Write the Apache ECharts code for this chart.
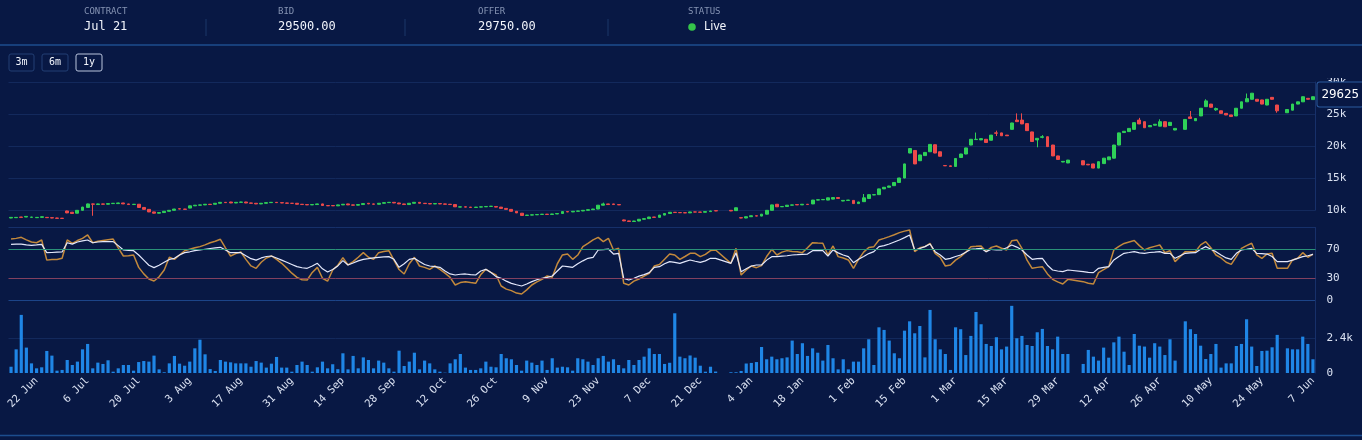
<!DOCTYPE html>
<html><head><meta charset="utf-8">
<script src="https://cdn.jsdelivr.net/npm/echarts@6/dist/echarts.min.js"></script>
<style>html,body{margin:0;padding:0;background:#081844;overflow:hidden}#c{width:1362px;height:440px}</style>
</head><body><div id="c"></div><script>
// ---------- data ----------
const months = ['Jan','Feb','Mar','Apr','May','Jun','Jul','Aug','Sep','Oct','Nov','Dec'];
const dates = [];
for (let d = new Date(Date.UTC(2020,5,15)); dates.length < 256; d.setUTCDate(d.getUTCDate()+1)) {
  const w = d.getUTCDay(); if (w === 0 || w === 6) continue;
  dates.push(d.toISOString().slice(0,10));
}
const priceTicks = [10000,15000,20000,25000,30000];
const rsiTicks = [0,30,70];
const rsiBands = [30,70];
const volTicks = [0,2400];
const lastPrice = 29625;

const open = [
8750,8800,8900,8900,8850,8800,8850,8850,8800,8750,
8720,9850,9650,9500,9950,10400,10950,10850,10950,10900,
11000,11000,11100,10950,10850,10900,10400,10100,9700,9500,
9600,9800,9950,10200,10150,10300,10650,10750,10800,10900,
10900,11050,11200,11250,11100,11200,11250,11100,11050,10950,
11050,11150,11200,11150,11100,11050,11050,10900,10850,10800,
10850,10950,10700,10700,10650,10800,10950,10800,10750,10850,
11050,10950,10900,11050,11150,11200,11100,10950,10850,11050,
11200,11050,11000,10950,11000,10950,10900,10850,10450,10500,
10450,10400,10450,10500,10550,10550,10450,10250,10100,9800,
9500,9150,9200,9250,9300,9350,9300,9380,9450,9750,
9700,9800,9850,9950,10050,10150,10750,10950,10950,10850,
8450,8300,8200,8280,8550,8650,8900,8850,9200,9450,
9650,9600,9580,9550,9700,9680,9650,9750,9900,null,
null,9950,9900,8800,8750,8950,9100,9050,9350,9950,
10900,10500,10550,10750,10850,10800,10900,10950,11550,11600,
11550,11700,11950,11400,11500,11500,11000,11300,11800,12350,
12400,13300,13550,13800,14300,15000,18900,19300,17700,18500,
19100,20200,19100,16950,16900,16800,18200,18750,20150,21000,
20950,21050,20900,22050,22050,21700,22600,24050,24050,23500,
22200,20950,21350,21450,20150,18450,17500,17350,null,null,
17700,17150,17200,16550,17250,17850,18100,20150,22100,22250,
22600,24050,23800,23000,23250,23100,23800,23200,22500,null,
22600,24550,23950,24700,26150,26550,25650,25500,25100,24850,
24700,25900,26900,27300,27300,27200,26400,27600,26400,null,
25200,25600,26550,26900,27450,27250];
const close = [
8850,8850,8850,9000,8900,8850,8950,8800,8750,8700,
8680,9550,9450,9950,10450,10950,10900,10950,10900,11000,
11050,11100,10950,10850,10900,10400,10100,9700,9500,9600,
9800,9950,10150,10150,10100,10650,10750,10800,10900,10850,
11050,11200,11150,11100,11200,11250,11100,11050,10950,11050,
11150,11200,11150,11100,11050,11040,10900,10850,10800,10850,
10950,10700,10650,10650,10800,10900,10800,10750,10850,11000,
10950,10900,11050,11150,11200,11100,10950,10850,11050,11200,
11050,11000,10950,11000,10950,10900,10850,10500,10500,10450,
10400,10450,10500,10550,10600,10450,10250,10100,9800,9550,
9150,9200,9250,9300,9350,9300,9380,9450,9750,9700,
9800,9850,9950,10050,10150,10750,10950,10850,10850,10800,
8300,8200,8280,8550,8650,8900,8850,9200,9450,9650,
9600,9580,9550,9700,9680,9650,9750,9850,9850,null,
null,9850,10350,8750,8950,9100,9050,9350,9950,10800,
10500,10550,10750,10800,10800,10900,10850,11550,11600,11650,
11900,11950,11800,11500,11550,11000,11250,11900,12400,12400,
13300,13550,13750,14300,15000,17200,19600,17200,18600,19000,
20250,18900,18400,16900,16800,18050,18750,19700,21050,21050,
21150,20550,21700,22000,21600,21600,23600,23800,23450,22400,
20700,21200,21450,19900,18450,17900,17600,17800,null,null,
17050,17050,16550,17550,18100,18300,20150,22050,22300,22750,
23650,23450,22850,23200,23400,23800,23000,23700,22750,null,
24150,24300,24300,25900,27050,26050,25850,25100,24850,24600,
25900,26900,27400,28250,27000,26550,27300,27300,25500,null,
25700,26550,26900,27700,27300,27700];
const low = [
8720,8770,8820,8880,8820,8770,8820,8770,8720,8670,
8650,9500,9400,9480,9920,10380,9100,10820,10860,10870,
10960,10970,10920,10820,10820,10370,10070,9670,9450,9470,
9570,9770,9920,10120,10070,10280,10620,10720,10770,10820,
10870,11020,11120,11070,11070,11170,11070,11020,10920,10920,
11020,11120,11120,11070,11020,11020,10870,10820,10770,10770,
10820,10670,10620,10620,10620,10770,10770,10720,10720,10820,
10920,10870,10870,11020,11120,11070,10920,10820,10820,11020,
11020,10970,10920,10920,10920,10870,10820,10470,10420,10420,
10370,10370,10420,10470,10520,10420,10220,10070,9770,9520,
9120,9120,9170,9220,9270,9270,9270,9350,9420,9670,
9670,9770,9820,9920,10020,10120,10720,10820,10820,10770,
8250,8170,8170,8250,8520,8620,8820,8820,9170,9420,
9570,9550,9520,9520,9650,9620,9620,9720,9820,null,
null,9820,9870,8720,8720,8920,9020,9020,9320,9920,
10470,10470,10520,10720,10770,10770,10820,10920,11520,11570,
11520,11670,11770,11370,11470,10970,10970,11270,11770,12320,
12370,13270,13520,13770,14270,14970,18870,17170,17670,18470,
19070,18870,18370,16870,16770,16770,18170,18720,20120,20970,
20920,20520,20870,21560,21570,21570,22570,23770,23420,22370,
20670,19800,21200,19870,18420,17870,17470,17320,null,null,
17020,17020,16520,16520,17220,17820,18070,20120,22070,22220,
22570,23420,22820,22970,23220,23070,22970,23170,22470,null,
22570,24270,23920,24670,26120,26020,25500,25070,24820,24570,
24670,25870,26870,27270,26970,26520,26370,27270,25200,null,
25170,25570,26520,26870,27270,27220];
const high = [
8880,8880,8930,9030,8930,8880,8980,8880,8830,8780,
8750,9900,9700,9980,10500,11000,11000,11000,10980,11040,
11090,11140,11130,10980,10940,10930,10430,10130,9730,9630,
9830,9980,10180,10230,10180,10680,10780,10830,10930,10930,
11080,11230,11230,11280,11230,11280,11280,11130,11080,11080,
11180,11230,11230,11180,11130,11070,11080,10930,10880,10880,
10980,10980,10730,10730,10830,10930,10980,10830,10880,11030,
11080,10980,11080,11180,11230,11230,11130,10980,11080,11230,
11230,11080,11030,11030,11030,10980,10930,10880,10530,10530,
10480,10480,10530,10580,10630,10580,10480,10280,10130,9830,
9530,9230,9280,9330,9380,9380,9410,9480,9780,9780,
9830,9880,9980,10080,10180,10780,11150,10980,10980,10880,
8500,8330,8310,8580,8680,8930,8930,9230,9480,9680,
9680,9630,9610,9730,9730,9710,9780,9880,9930,null,
null,9980,10380,8830,8980,9130,9130,9380,9980,10830,
10930,10580,10780,10830,10880,10930,10930,11580,11630,11680,
11930,11980,11980,11530,11580,11530,11280,12500,12430,12430,
13330,13580,13780,14330,15030,17230,19630,19330,18630,19030,
20280,20230,19130,16980,16930,18080,18780,19730,21080,22100,
21180,21080,21730,22400,22080,21730,23630,25100,25100,23530,
22230,21230,21700,21480,20180,18480,17630,17830,null,null,
17730,17180,17230,17580,18130,18330,20180,22080,22330,22780,
23680,24400,23830,23230,23430,24170,23830,23730,22780,null,
24180,25470,24330,25930,27300,26580,26000,25530,25130,24880,
25930,26930,28200,28280,27330,27230,27330,27630,26430,null,
25730,26580,26930,27730,27480,27730];
const rsi = [
84,85,86.4,83,80,79,82.8,55,56,56,
57.5,82.8,78,82,85,89.7,79,81,82,83,
84,72,60.7,61,62,45,36,29,26.2,32,
41.4,58.9,56,62,68,70,72,73.6,76,79,
81,83.7,72,60.7,64,66.2,56,47,43.7,52,
58,60.7,56,50.6,44,37,31.3,28,27.6,38,
45,30,26,41.4,48,58.4,48.3,52.9,59,65.3,
58.9,56.1,65.3,67,68,55,42,35.9,50,58.9,
46.9,45,42.3,46.9,42.3,37,31.3,20.7,24,25.3,
24,23,35,42.3,38,34.5,19.3,15,12.9,9.5,
8.3,14,20.7,25,28.5,33.1,31.3,50,62.1,63.4,
56.1,62,73.6,78,83,86.4,80.5,85.1,69,71.3,
23,20.7,26,29,33,36.8,46.9,49,56.1,63.4,
62.1,56.1,60,64.4,64.4,59.8,63,68.1,69,null,
null,50.6,71.3,34.5,41.4,46.9,44.6,47.4,60,69.9,
62.1,66,68.1,67,66.7,65.3,72,79.1,78.5,78.2,
62.1,74.5,59.8,58,55.2,43.7,56.1,66,72.5,73.6,
82.8,85,87.4,90,92.9,95,96.6,66.7,72,73.6,
78.2,64.4,58.9,46.9,48.3,55,59.8,66,73.6,74,
74.5,66.7,72.6,74.5,71.3,69,81.6,82.8,71.3,55,
43.7,45,46,36,28.5,25,22.1,28.5,null,null,
25.3,23,22.1,37.7,42,46,69,74,78,80,
82,75,69,72,74,75.9,65.3,68,52.9,null,
66.7,66.7,67,76,80.5,72,62.1,58,52,49.2,
59.8,71.3,75,78.2,62.1,57.5,63.4,64.4,43.7,null,
43.7,55.2,57.5,65.3,58.9,63.4];
const rsiSignal = [
76.8,77,77,76,75.4,76,76.8,65.3,65.5,66,
66.2,79,77,80,81.5,82.8,79,80,80.5,80.5,
80.5,75,69,68.5,68,62,55,48,44.6,48,
52,56,57.5,62,65.3,66.5,68,69,70,71,
72,72.7,69,65.3,65.3,65.3,61,57,55,58,
60,60.7,58,55,52,49,46,44.5,43.7,47,
50.6,43,38.5,42,47,54.3,48.3,51,54,56.1,
57,58,58.9,59.5,59.8,56.1,45.1,50,56,57.5,
53,49,46.9,46,45.1,40,36,34.5,35.5,35.9,
35,34.5,40,42.3,38,32.2,30,26,23,21,
19.3,22,25.3,28,30,31.3,33.1,40,46.9,46,
45.1,50,54,57.5,58.9,69,69.5,70.3,63.4,64.4,
29.9,27.6,30,33,35,37.7,45.1,46,50,53,
52,50.6,53,55.2,53.5,52,54,57.5,57.5,null,
null,50.6,65,39.1,43,46.9,48.3,48.3,55,59.8,
59.8,60.5,61,62.1,62.5,63,63.4,68.1,68.1,68.1,
60.7,69,65,62,59.8,51.5,56.1,60,64,66.7,
73.6,75,77.2,80,82.8,86,89.7,69,71,73.6,
77.2,66.7,62.1,56.1,57.5,60,62.1,66,69.9,70.5,
71.3,66.7,69.9,69,69,72,75.9,73,69,62,
56.1,57,57.5,48,41.4,40,39.1,41.4,null,null,
39.1,38,37.7,43.7,45,46,55.2,60,64.4,65.5,
66.7,65,64.4,65.5,66,66.7,64.4,64.4,57.5,null,
64.4,65,65.3,70,73.6,70,66.7,62,58,56.1,
64.4,69,70,71.3,64.4,64,63.4,60,52.9,null,
52.9,55,57.5,59.8,61,63];
const volume = [
430,1620,3980,1740,660,320,390,1510,1190,160,
210,890,550,780,1620,1990,320,710,620,870,
90,320,550,550,160,750,820,780,1190,250,
50,660,1170,640,500,780,1690,2280,1280,270,
140,890,780,730,660,660,660,430,820,710,
370,640,1100,370,370,90,550,780,550,90,
390,780,320,600,260,1350,250,1170,320,1070,
890,320,850,710,320,90,1530,480,780,1390,
250,850,660,250,90,20,660,940,1300,370,
210,210,320,780,430,390,1300,1010,940,550,
160,850,710,550,850,210,1010,370,430,390,
160,1010,940,780,550,1010,1170,780,940,550,
320,890,550,890,1120,1690,1300,1300,620,700,
4090,1120,1010,1200,1050,500,90,430,100,null,
null,50,50,140,650,690,750,1780,940,1120,
940,1010,1070,2220,1300,2040,1170,1690,1390,850,
1920,1010,250,940,250,780,780,1690,2310,550,
3130,2950,2220,1350,1010,2900,3540,2720,3220,1070,
4320,2310,1620,1300,210,3130,3000,1230,2540,4180,
3340,1990,1850,2450,1620,1810,4600,2380,2540,1920,
1850,2790,3020,1850,1620,2490,1300,1300,null,null,
620,1580,1120,850,1740,1050,2100,2490,1460,550,
2670,1870,1810,1050,2040,1810,1230,2310,850,null,
3540,3000,2670,1870,960,1300,1990,370,660,660,
1850,1990,3680,1810,480,1510,1530,1760,2610,null,
1690,1620,1620,2490,1990,940];

// ---------- styles ----------
const BG = '#081844', GRID = '#13295c', TXT = '#dbe2f2', MONO = '"DejaVu Sans Mono", monospace';
const candles = open.map((o, i) => o == null ? '-' : [o, close[i], low[i], high[i]]);
const fmtDate = s => { const p = s.split('-'); return (+p[2]) + ' ' + months[+p[1]-1]; };
const clear = 'rgba(0,0,0,0)';
const rsiLineColors = [];
for (let v = 0; v <= 100; v += 10) rsiLineColors.push(v === 0 ? '#1c4488' : v === 100 ? '#16306a' : clear);

const gridBase = { left: 8.5, right: 46.5 };
const chart = echarts.init(document.getElementById('c'), null, { renderer: 'canvas' });
const xBase = (gi, show) => ({
  type: 'category', gridIndex: gi, data: dates, boundaryGap: true,
  axisLine: { show: false }, axisTick: { show: false }, splitLine: { show: false },
  axisLabel: show ? { show: true, rotate: 45, interval: (i) => i % 10 === 5, formatter: fmtDate,
    color: TXT, fontSize: 10.5, fontFamily: MONO, margin: 6 } : { show: false }
});
const hdrLbl = (x, t) => ({ type: 'text', z: 60, style: { x, y: 12, text: t, fill: '#8593b3', font: '9px ' + MONO, verticalAlign: 'middle' } });
const hdrVal = (x, t) => ({ type: 'text', z: 60, style: { x, y: 27, text: t, fill: '#f2f5fc', font: '12px ' + MONO, verticalAlign: 'middle' } });
const sep = x => ({ type: 'line', z: 60, shape: { x1: x, y1: 19, x2: x, y2: 36 }, style: { stroke: '#1a3668', lineWidth: 1 } });
const btn = (x, w, t, active) => ([
  { type: 'rect', z: 60, shape: { x, y: 54, width: w, height: 17, r: 2 }, style: { fill: BG, stroke: active ? '#b9c4dc' : '#223f74', lineWidth: 1 } },
  { type: 'text', z: 61, style: { x: x + w / 2, y: 62.5, text: t, fill: '#f2f5fc', font: '10px ' + MONO, align: 'center', verticalAlign: 'middle' } }
]);

chart.setOption({
  backgroundColor: BG,
  animation: false,
  grid: [
    Object.assign({ top: 82, height: 128 }, gridBase),
    Object.assign({ top: 227.5, height: 72.5 }, gridBase),
    Object.assign({ top: 300, height: 73 }, gridBase)
  ],
  xAxis: [xBase(0, false), xBase(1, false), xBase(2, true)],
  yAxis: [
    { type: 'value', gridIndex: 0, position: 'right', min: 10000, max: 30000, interval: 5000,
      axisLine: { show: true, lineStyle: { color: '#17306a' } }, axisTick: { show: false },
      splitLine: { lineStyle: { color: GRID } },
      axisLabel: { color: TXT, fontSize: 11, fontFamily: MONO, margin: 11,
        formatter: v => priceTicks.includes(v) ? (v / 1000) + 'k' : '' } },
    { type: 'value', gridIndex: 1, position: 'right', min: 0, max: 100, interval: 10,
      axisLine: { show: true, lineStyle: { color: '#17306a' } }, axisTick: { show: false },
      splitLine: { show: true, lineStyle: { color: rsiLineColors } },
      axisLabel: { color: TXT, fontSize: 11, fontFamily: MONO, margin: 11,
        formatter: v => rsiTicks.includes(v) ? String(v) : '' } },
    { type: 'value', gridIndex: 2, position: 'right', min: 0, max: 5000, interval: 2400,
      axisLine: { show: true, lineStyle: { color: '#17306a' } }, axisTick: { show: false },
      splitLine: { show: true, lineStyle: { color: [clear, GRID, clear, clear] } },
      axisLabel: { color: TXT, fontSize: 11, fontFamily: MONO, margin: 11,
        formatter: v => volTicks.includes(v) ? (v === 0 ? '0' : (v / 1000) + 'k') : '' } }
  ],
  series: [
    { type: 'candlestick', xAxisIndex: 0, yAxisIndex: 0, data: candles, clip: false, barWidth: '66%',
      itemStyle: { color: '#2fd158', color0: '#ee4a4a', borderColor: '#2fd158', borderColor0: '#ee4a4a', borderWidth: 1 },
      markLine: { symbol: 'none', silent: true, animation: false,
        lineStyle: { color: clear, width: 0, type: 'solid' },
        label: { show: true, position: 'end', distance: 2, formatter: String(lastPrice), color: '#ffffff', fontSize: 12.5,
          fontFamily: MONO, backgroundColor: BG, borderColor: '#2b5a9e', borderWidth: 1, borderRadius: 2,
          padding: [6, 4, 5, 4], offset: [0, 10] },
        data: [{ yAxis: lastPrice }] } },
    { type: 'line', xAxisIndex: 1, yAxisIndex: 1, data: rsi, showSymbol: false, connectNulls: true,
      lineStyle: { color: '#c3893c', width: 1.5 }, z: 3,
      markLine: { symbol: 'none', silent: true, animation: false, label: { show: false },
        data: [
          { yAxis: rsiBands[0], lineStyle: { color: '#82405f', width: 1, type: 'solid' } },
          { yAxis: rsiBands[1], lineStyle: { color: '#2a9278', width: 1, type: 'solid' } }
        ] } },
    { type: 'line', xAxisIndex: 1, yAxisIndex: 1, data: rsiSignal, showSymbol: false, connectNulls: true,
      lineStyle: { color: '#e4e8fb', width: 1.2 }, z: 4 },
    { type: 'bar', xAxisIndex: 2, yAxisIndex: 2, data: volume, barWidth: '62%',
      itemStyle: { color: '#1f86e6' } }
  ],
  graphic: [
    { type: 'rect', zlevel: 1, z: 50, shape: { x: 1316.5, y: 50, width: 46, height: 28 }, style: { fill: BG } },
    { type: 'line', zlevel: 1, shape: { x1: 0, y1: 45, x2: 1362, y2: 45 }, style: { stroke: '#1c4d8e', lineWidth: 1.5 } },
    { type: 'line', z: 60, shape: { x1: 0, y1: 435.5, x2: 1362, y2: 435.5 }, style: { stroke: '#1c4d8e', lineWidth: 1.5 } },
    hdrLbl(84, 'CONTRACT'), hdrVal(84, 'Jul 21'),
    hdrLbl(278, 'BID'), hdrVal(278, '29500.00'),
    hdrLbl(478, 'OFFER'), hdrVal(478, '29750.00'),
    hdrLbl(688, 'STATUS'),
    { type: 'circle', z: 60, shape: { cx: 692, cy: 27, r: 3.8 }, style: { fill: '#35c44a' } },
    { type: 'text', z: 60, style: { x: 704, y: 27, text: 'Live', fill: '#f2f5fc', font: '12px "Noto Sans", sans-serif', verticalAlign: 'middle' } },
    sep(206), sep(405), sep(608),
    ...btn(9, 25, '3m', false), ...btn(42, 26, '6m', false), ...btn(76, 26, '1y', true)
  ]
});
</script></body></html>
